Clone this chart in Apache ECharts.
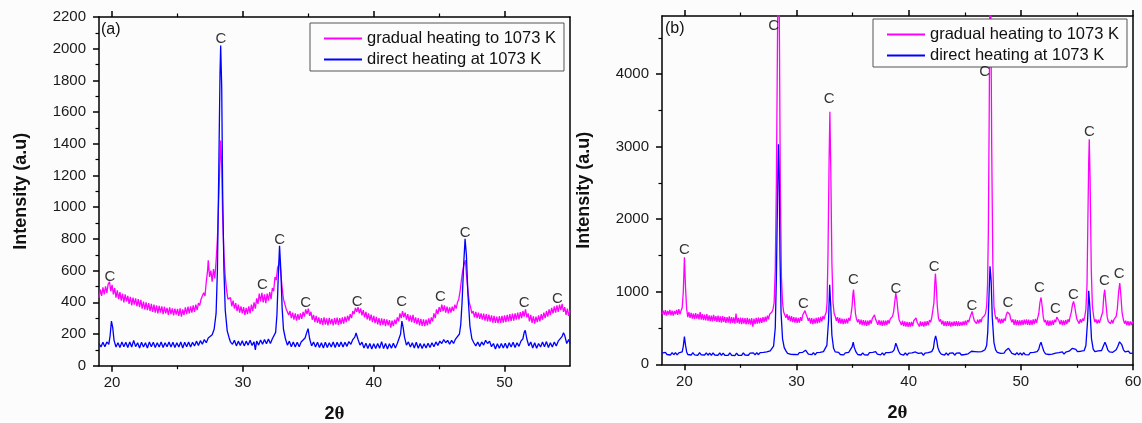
<!DOCTYPE html>
<html><head><meta charset="utf-8">
<script src="https://cdn.jsdelivr.net/npm/echarts@6/dist/echarts.min.js"></script>
<style>html,body{margin:0;padding:0;background:#fcfcfc}#c{width:1142px;height:423px}</style>
</head><body><div id="c"></div><script>
const seriesNames = ['gradual heating to 1073 K', 'direct heating at 1073 K'];
const panelLabels = ['(a)', '(b)'];
const xMajorA = [20, 30, 40, 50], xMinorA = [25, 35, 45];
const xMajorB = [20, 30, 40, 50, 60], xMinorB = [25, 35, 45, 55];
const yMajorB = [0, 1000, 2000, 3000, 4000], yMinorB = [500, 1500, 2500, 3500, 4500];

// panel (a) gradual heating
const gradualA = [[19.0,430],[19.1,480],[19.2,440],[19.3,495],[19.4,450],[19.5,500],[19.6,460],[19.7,515],[19.8,530],[19.9,470],[20.0,510],[20.1,450],[20.2,490],[20.3,430],[20.4,475],[20.5,420],[20.6,465],[20.7,410],[20.8,455],[20.9,400],[21.0,450],[21.1,405],[21.2,440],[21.3,390],[21.4,435],[21.5,380],[21.6,430],[21.7,385],[21.8,425],[21.9,375],[22.0,420],[22.1,370],[22.2,415],[22.3,360],[22.4,405],[22.5,355],[22.6,400],[22.7,350],[22.8,395],[22.9,345],[23.0,390],[23.1,340],[23.2,385],[23.3,335],[23.4,380],[23.5,330],[23.6,378],[23.7,335],[23.8,375],[23.9,325],[24.0,372],[24.1,330],[24.2,365],[24.3,320],[24.4,368],[24.5,325],[24.6,362],[24.7,318],[24.8,360],[24.9,322],[25.0,358],[25.1,315],[25.2,362],[25.3,310],[25.4,355],[25.5,320],[25.6,368],[25.7,325],[25.8,372],[25.9,330],[26.0,375],[26.1,335],[26.2,380],[26.3,340],[26.4,385],[26.5,350],[26.6,395],[26.7,380],[26.8,420],[26.9,410],[27.0,460],[27.1,440],[27.2,530],[27.3,600],[27.35,665],[27.45,560],[27.55,600],[27.65,530],[27.75,610],[27.85,550],[27.95,660],[28.05,800],[28.15,1050],[28.25,1300],[28.3,1420],[28.38,1250],[28.45,950],[28.55,700],[28.65,560],[28.75,480],[28.85,420],[28.95,410],[29.05,430],[29.15,375],[29.25,410],[29.35,360],[29.45,395],[29.55,345],[29.65,385],[29.75,335],[29.85,375],[29.95,330],[30.05,370],[30.15,320],[30.25,365],[30.35,325],[30.45,375],[30.55,330],[30.65,385],[30.75,345],[30.85,400],[30.95,360],[31.05,425],[31.15,390],[31.25,455],[31.35,405],[31.45,460],[31.55,400],[31.65,450],[31.75,395],[31.85,455],[31.95,410],[32.05,465],[32.15,420],[32.25,490],[32.35,470],[32.45,560],[32.55,540],[32.65,620],[32.75,640],[32.8,665],[32.9,580],[33.0,490],[33.1,420],[33.2,410],[33.3,360],[33.4,370],[33.5,320],[33.6,345],[33.7,300],[33.8,335],[33.9,290],[34.0,330],[34.1,285],[34.2,325],[34.3,290],[34.4,330],[34.5,295],[34.6,340],[34.7,310],[34.8,355],[34.9,325],[35.0,360],[35.1,315],[35.2,340],[35.3,290],[35.4,320],[35.5,275],[35.6,315],[35.7,270],[35.8,305],[35.9,262],[36.0,300],[36.1,258],[36.2,305],[36.3,260],[36.4,298],[36.5,255],[36.6,302],[36.7,262],[36.8,295],[36.9,255],[37.0,300],[37.1,260],[37.2,303],[37.3,258],[37.4,300],[37.5,262],[37.6,305],[37.7,265],[37.8,310],[37.9,275],[38.0,315],[38.1,285],[38.2,325],[38.3,300],[38.4,345],[38.5,325],[38.6,365],[38.7,340],[38.8,370],[38.9,330],[39.0,362],[39.1,318],[39.2,350],[39.3,305],[39.4,340],[39.5,292],[39.6,330],[39.7,285],[39.8,322],[39.9,275],[40.0,315],[40.1,268],[40.2,308],[40.3,260],[40.4,300],[40.5,255],[40.6,298],[40.7,258],[40.8,295],[40.9,250],[41.0,292],[41.1,255],[41.2,288],[41.3,240],[41.4,285],[41.5,250],[41.6,290],[41.7,262],[41.8,305],[41.9,280],[42.0,330],[42.1,300],[42.2,345],[42.3,305],[42.4,335],[42.5,290],[42.6,325],[42.7,280],[42.8,318],[42.9,275],[43.0,320],[43.1,270],[43.2,305],[43.3,262],[43.4,300],[43.5,255],[43.6,295],[43.7,252],[43.8,292],[43.9,250],[44.0,290],[44.1,255],[44.2,298],[44.3,262],[44.4,305],[44.5,280],[44.6,330],[44.7,300],[44.8,355],[44.9,325],[45.0,370],[45.1,340],[45.2,385],[45.3,345],[45.4,380],[45.5,335],[45.6,372],[45.7,330],[45.8,368],[45.9,335],[46.0,372],[46.1,345],[46.2,385],[46.3,360],[46.4,400],[46.5,420],[46.6,470],[46.7,540],[46.8,600],[46.9,640],[47.0,665],[47.1,560],[47.2,470],[47.3,400],[47.4,370],[47.5,330],[47.6,345],[47.7,305],[47.8,340],[47.9,300],[48.0,335],[48.1,295],[48.2,330],[48.3,290],[48.4,328],[48.5,285],[48.6,325],[48.7,280],[48.8,322],[48.9,278],[49.0,318],[49.1,272],[49.2,315],[49.3,270],[49.4,310],[49.5,268],[49.6,312],[49.7,270],[49.8,315],[49.9,272],[50.0,318],[50.1,275],[50.2,320],[50.3,280],[50.4,325],[50.5,282],[50.6,328],[50.7,285],[50.8,330],[50.9,290],[51.0,335],[51.1,292],[51.2,338],[51.3,300],[51.4,345],[51.5,310],[51.6,355],[51.7,305],[51.8,330],[51.9,280],[52.0,320],[52.1,270],[52.2,312],[52.3,265],[52.4,310],[52.5,275],[52.6,318],[52.7,280],[52.8,325],[52.9,290],[53.0,335],[53.1,300],[53.2,345],[53.3,310],[53.4,355],[53.5,320],[53.6,365],[53.7,330],[53.8,375],[53.9,335],[54.0,380],[54.1,340],[54.2,385],[54.3,350],[54.4,390],[54.5,340],[54.6,370],[54.7,320],[54.8,360],[54.9,315],[55.0,350]];

// panel (a) direct heating
const directA = [[19.0,140],[19.15,118],[19.3,148],[19.45,120],[19.6,150],[19.75,135],[19.85,190],[19.95,282],[20.05,240],[20.15,160],[20.3,118],[20.45,145],[20.6,115],[20.75,150],[20.9,120],[21.05,148],[21.2,115],[21.35,150],[21.5,118],[21.65,160],[21.8,120],[21.95,145],[22.1,112],[22.25,148],[22.4,118],[22.55,145],[22.7,112],[22.85,150],[23.0,120],[23.15,148],[23.3,115],[23.45,145],[23.6,118],[23.75,150],[23.9,115],[24.05,145],[24.2,120],[24.35,150],[24.5,118],[24.65,148],[24.8,115],[24.95,145],[25.1,118],[25.25,150],[25.4,112],[25.55,148],[25.7,120],[25.85,150],[26.0,118],[26.15,148],[26.3,125],[26.45,155],[26.6,128],[26.75,158],[26.9,135],[27.05,165],[27.2,145],[27.35,175],[27.5,165],[27.65,195],[27.8,230],[27.95,330],[28.05,600],[28.15,1200],[28.25,1850],[28.3,2020],[28.38,1750],[28.45,1100],[28.55,600],[28.65,350],[28.8,220],[28.95,175],[29.05,150],[29.2,135],[29.35,160],[29.5,125],[29.65,155],[29.8,128],[29.95,158],[30.1,125],[30.25,155],[30.4,130],[30.55,160],[30.7,128],[30.85,150],[30.95,100],[31.05,155],[31.2,130],[31.35,162],[31.5,135],[31.65,165],[31.8,138],[31.95,168],[32.1,140],[32.25,170],[32.4,175],[32.5,210],[32.6,320],[32.7,560],[32.8,756],[32.9,600],[33.0,360],[33.1,230],[33.25,170],[33.4,130],[33.55,155],[33.7,120],[33.85,150],[34.0,118],[34.15,148],[34.3,120],[34.45,150],[34.6,140],[34.75,175],[34.9,215],[34.98,234],[35.1,170],[35.25,125],[35.4,150],[35.55,118],[35.7,148],[35.85,115],[36.0,145],[36.15,112],[36.3,148],[36.45,115],[36.6,145],[36.75,118],[36.9,150],[37.05,115],[37.2,148],[37.35,120],[37.5,150],[37.65,118],[37.8,148],[37.95,122],[38.1,152],[38.25,135],[38.4,165],[38.55,180],[38.65,206],[38.8,165],[38.95,130],[39.1,148],[39.25,112],[39.4,142],[39.55,108],[39.7,140],[39.85,105],[40.0,138],[40.15,108],[40.3,140],[40.45,110],[40.6,152],[40.75,108],[40.9,140],[41.05,105],[41.2,138],[41.35,110],[41.5,142],[41.65,112],[41.8,140],[41.95,150],[42.05,200],[42.15,282],[42.25,240],[42.35,180],[42.5,130],[42.65,150],[42.8,118],[42.95,145],[43.1,112],[43.25,148],[43.4,110],[43.55,140],[43.7,108],[43.85,138],[44.0,112],[44.15,142],[44.3,115],[44.45,145],[44.6,120],[44.75,150],[44.9,128],[45.05,155],[45.2,140],[45.35,165],[45.5,145],[45.65,160],[45.8,135],[45.95,160],[46.1,140],[46.25,168],[46.4,165],[46.55,200],[46.65,260],[46.75,400],[46.88,650],[46.98,800],[47.08,700],[47.2,450],[47.35,250],[47.5,170],[47.65,145],[47.8,125],[47.95,150],[48.1,122],[48.25,150],[48.4,130],[48.55,160],[48.7,140],[48.85,155],[49.0,120],[49.15,140],[49.3,105],[49.45,138],[49.6,110],[49.75,140],[49.9,112],[50.05,142],[50.2,110],[50.35,145],[50.5,118],[50.65,148],[50.8,115],[50.95,145],[51.1,122],[51.25,155],[51.4,170],[51.5,210],[51.58,223],[51.7,170],[51.85,125],[52.0,150],[52.15,112],[52.3,145],[52.45,110],[52.6,140],[52.75,118],[52.9,150],[53.05,120],[53.2,152],[53.35,115],[53.5,145],[53.65,118],[53.8,150],[53.95,125],[54.1,155],[54.25,150],[54.4,185],[54.5,208],[54.6,190],[54.75,140],[54.9,165],[55.0,140]];

// panel (b) gradual heating
const gradualB = [[18.0,690],[18.1,740],[18.2,680],[18.3,745],[18.4,670],[18.5,735],[18.6,685],[18.7,750],[18.8,675],[18.9,740],[19.0,670],[19.1,735],[19.2,690],[19.3,750],[19.4,680],[19.5,760],[19.6,690],[19.7,740],[19.8,780],[19.9,1000],[20.0,1475],[20.1,1050],[20.2,760],[20.3,650],[20.4,720],[20.5,640],[20.6,710],[20.7,630],[20.8,700],[20.9,625],[21.0,705],[21.1,630],[21.2,695],[21.3,620],[21.4,720],[21.5,615],[21.6,690],[21.7,610],[21.8,685],[21.9,605],[22.0,690],[22.1,600],[22.2,675],[22.3,595],[22.4,670],[22.5,590],[22.6,680],[22.7,600],[22.8,665],[22.9,585],[23.0,670],[23.1,580],[23.2,660],[23.3,575],[23.4,665],[23.5,585],[23.6,655],[23.7,570],[23.8,650],[23.9,575],[24.0,660],[24.1,565],[24.2,650],[24.3,570],[24.4,645],[24.5,560],[24.6,700],[24.7,570],[24.8,640],[24.9,560],[25.0,645],[25.1,555],[25.2,640],[25.3,560],[25.4,635],[25.5,550],[25.6,640],[25.7,555],[25.8,630],[25.9,545],[26.0,635],[26.1,520],[26.2,630],[26.3,555],[26.4,640],[26.5,560],[26.6,645],[26.7,565],[26.8,640],[26.9,570],[27.0,650],[27.1,580],[27.2,655],[27.3,590],[27.4,670],[27.5,620],[27.6,690],[27.7,680],[27.8,720],[27.9,760],[28.0,850],[28.1,1300],[28.2,2500],[28.3,4500],[28.38,6000],[28.46,4800],[28.55,2500],[28.65,1200],[28.75,850],[28.85,720],[28.95,700],[29.05,640],[29.15,690],[29.25,610],[29.35,670],[29.45,590],[29.55,665],[29.65,580],[29.75,650],[29.85,575],[29.95,645],[30.05,570],[30.15,640],[30.25,575],[30.35,650],[30.45,600],[30.55,680],[30.65,700],[30.75,740],[30.85,690],[30.95,650],[31.05,600],[31.15,640],[31.25,560],[31.35,635],[31.45,555],[31.55,630],[31.65,560],[31.75,640],[31.85,565],[31.95,645],[32.05,575],[32.15,655],[32.25,590],[32.35,665],[32.45,620],[32.55,680],[32.65,720],[32.72,850],[32.8,1500],[32.9,2800],[32.97,3479],[33.05,2700],[33.15,1400],[33.25,850],[33.35,700],[33.45,660],[33.55,600],[33.65,650],[33.75,570],[33.85,640],[33.95,560],[34.05,630],[34.15,555],[34.25,625],[34.35,560],[34.45,630],[34.55,565],[34.65,640],[34.75,600],[34.85,680],[34.95,800],[35.02,960],[35.08,1028],[35.15,900],[35.25,700],[35.35,620],[35.45,580],[35.55,620],[35.65,550],[35.75,615],[35.85,540],[35.95,610],[36.05,535],[36.15,605],[36.25,530],[36.35,600],[36.45,540],[36.55,610],[36.65,560],[36.75,630],[36.85,610],[36.95,680],[37.05,620],[37.15,600],[37.25,545],[37.35,610],[37.45,540],[37.55,600],[37.65,530],[37.75,605],[37.85,535],[37.95,600],[38.05,545],[38.15,610],[38.25,560],[38.35,625],[38.45,600],[38.55,660],[38.65,720],[38.75,850],[38.85,981],[38.95,880],[39.05,720],[39.15,610],[39.25,580],[39.35,540],[39.45,600],[39.55,525],[39.65,590],[39.75,520],[39.85,585],[39.95,515],[40.05,580],[40.15,520],[40.25,585],[40.35,525],[40.45,600],[40.55,580],[40.65,640],[40.75,580],[40.85,560],[40.95,520],[41.05,590],[41.15,525],[41.25,585],[41.35,520],[41.45,590],[41.55,530],[41.65,595],[41.75,540],[41.85,610],[41.95,580],[42.05,640],[42.15,660],[42.25,850],[42.32,1100],[42.38,1249],[42.45,1100],[42.55,800],[42.65,640],[42.75,590],[42.85,620],[42.95,550],[43.05,600],[43.15,530],[43.25,590],[43.35,525],[43.45,595],[43.55,530],[43.65,590],[43.75,520],[43.85,585],[43.95,525],[44.05,590],[44.15,530],[44.25,595],[44.35,525],[44.45,590],[44.55,530],[44.65,585],[44.75,535],[44.85,590],[44.95,540],[45.05,600],[45.15,545],[45.25,610],[45.35,580],[45.45,640],[45.55,650],[45.65,728],[45.75,660],[45.85,600],[45.95,620],[46.05,560],[46.15,615],[46.25,565],[46.35,620],[46.45,580],[46.55,640],[46.65,620],[46.75,670],[46.85,700],[46.95,800],[47.03,1100],[47.1,1800],[47.18,3500],[47.25,5500],[47.32,5000],[47.4,3000],[47.5,1400],[47.6,800],[47.7,680],[47.8,620],[47.9,650],[48.0,575],[48.1,630],[48.2,560],[48.3,625],[48.4,570],[48.5,630],[48.6,600],[48.7,680],[48.8,720],[48.9,742],[49.0,690],[49.1,620],[49.2,580],[49.3,620],[49.4,545],[49.5,615],[49.6,540],[49.7,610],[49.8,535],[49.9,605],[50.0,540],[50.1,610],[50.2,545],[50.3,615],[50.4,550],[50.5,620],[50.6,545],[50.7,615],[50.8,540],[50.9,610],[51.0,545],[51.1,620],[51.2,555],[51.3,625],[51.4,570],[51.5,640],[51.6,700],[51.7,850],[51.8,921],[51.9,800],[52.0,650],[52.1,580],[52.2,610],[52.3,540],[52.4,605],[52.5,530],[52.6,600],[52.7,535],[52.8,605],[52.9,545],[53.0,615],[53.1,580],[53.2,650],[53.28,668],[53.4,600],[53.5,550],[53.6,610],[53.7,540],[53.8,605],[53.9,545],[54.0,610],[54.1,555],[54.2,620],[54.3,580],[54.4,660],[54.5,720],[54.6,820],[54.7,866],[54.8,800],[54.9,700],[55.0,620],[55.1,600],[55.2,560],[55.3,620],[55.4,575],[55.5,630],[55.6,600],[55.7,660],[55.8,760],[55.9,1100],[55.97,1900],[56.05,2800],[56.1,3101],[56.18,2500],[56.28,1300],[56.38,800],[56.5,650],[56.6,580],[56.7,620],[56.8,560],[56.9,615],[57.0,570],[57.1,620],[57.2,610],[57.3,720],[57.4,950],[57.48,1028],[57.58,850],[57.7,650],[57.8,590],[57.9,615],[58.0,560],[58.1,610],[58.2,565],[58.3,615],[58.4,600],[58.5,660],[58.6,760],[58.72,1000],[58.82,1120],[58.92,950],[59.02,720],[59.15,610],[59.25,560],[59.35,600],[59.45,540],[59.55,595],[59.65,535],[59.75,590],[59.85,540],[59.95,595],[60.0,560]];

// panel (b) direct heating
const directB = [[18.0,155],[18.15,130],[18.3,165],[18.45,135],[18.6,160],[18.75,128],[18.9,162],[19.05,132],[19.2,160],[19.35,130],[19.5,158],[19.65,135],[19.8,170],[19.9,250],[20.0,382],[20.1,260],[20.2,170],[20.3,135],[20.45,158],[20.6,128],[20.75,160],[20.9,130],[21.05,155],[21.2,125],[21.35,160],[21.5,130],[21.65,155],[21.8,128],[21.95,158],[22.1,125],[22.25,155],[22.4,122],[22.55,158],[22.7,128],[22.85,152],[23.0,125],[23.15,158],[23.3,122],[23.45,155],[23.6,125],[23.75,150],[23.9,122],[24.05,158],[24.2,125],[24.35,150],[24.5,120],[24.65,155],[24.8,125],[24.95,150],[25.1,122],[25.25,158],[25.4,128],[25.55,152],[25.7,125],[25.85,155],[26.0,128],[26.15,158],[26.3,130],[26.45,160],[26.6,132],[26.75,162],[26.9,138],[27.05,165],[27.2,145],[27.35,170],[27.5,160],[27.65,185],[27.8,200],[27.95,250],[28.1,500],[28.2,1200],[28.3,2300],[28.38,3032],[28.45,2600],[28.52,1500],[28.62,700],[28.75,350],[28.9,230],[29.05,185],[29.2,150],[29.35,170],[29.5,138],[29.65,165],[29.8,135],[29.95,162],[30.1,132],[30.25,160],[30.4,135],[30.55,165],[30.7,150],[30.8,195],[30.9,170],[31.05,140],[31.2,165],[31.35,132],[31.5,160],[31.65,130],[31.8,162],[31.95,138],[32.1,165],[32.25,145],[32.4,175],[32.55,190],[32.7,260],[32.85,600],[32.95,1097],[33.05,800],[33.15,400],[33.3,220],[33.45,170],[33.6,145],[33.75,165],[33.9,135],[34.05,160],[34.2,130],[34.35,158],[34.5,135],[34.65,165],[34.8,175],[34.95,240],[35.05,304],[35.15,230],[35.3,170],[35.45,135],[35.6,160],[35.75,128],[35.9,158],[36.05,130],[36.2,155],[36.35,128],[36.5,160],[36.65,135],[36.8,165],[36.95,185],[37.05,175],[37.2,140],[37.35,160],[37.5,130],[37.65,158],[37.8,128],[37.95,160],[38.1,135],[38.25,162],[38.4,145],[38.55,170],[38.7,200],[38.85,290],[38.95,250],[39.1,180],[39.25,140],[39.4,160],[39.55,128],[39.7,158],[39.85,125],[40.0,155],[40.15,128],[40.3,158],[40.45,140],[40.6,170],[40.7,180],[40.85,150],[41.0,130],[41.15,158],[41.3,125],[41.45,155],[41.6,130],[41.75,160],[41.9,145],[42.05,175],[42.2,220],[42.3,330],[42.4,392],[42.5,330],[42.6,230],[42.75,170],[42.9,140],[43.05,160],[43.2,128],[43.35,158],[43.5,125],[43.65,155],[43.8,128],[43.95,158],[44.1,125],[44.25,155],[44.4,130],[44.55,158],[44.7,128],[44.85,155],[45.0,135],[45.15,160],[45.3,145],[45.45,170],[45.6,180],[45.75,200],[45.9,175],[46.05,150],[46.2,170],[46.35,150],[46.5,175],[46.65,170],[46.8,200],[46.95,260],[47.05,450],[47.15,900],[47.25,1350],[47.35,1150],[47.45,650],[47.6,300],[47.75,200],[47.9,165],[48.05,180],[48.2,150],[48.35,170],[48.5,155],[48.65,190],[48.8,215],[48.9,220],[49.05,185],[49.2,150],[49.35,165],[49.5,132],[49.65,160],[49.8,130],[49.95,158],[50.1,128],[50.25,160],[50.4,132],[50.55,158],[50.7,130],[50.85,162],[51.0,138],[51.15,165],[51.3,150],[51.45,175],[51.6,210],[51.7,270],[51.8,304],[51.9,250],[52.05,180],[52.2,145],[52.35,165],[52.5,135],[52.65,160],[52.8,140],[52.95,165],[53.1,155],[53.25,180],[53.4,160],[53.55,145],[53.7,170],[53.85,140],[54.0,168],[54.15,150],[54.3,180],[54.45,195],[54.6,220],[54.75,230],[54.9,205],[55.05,175],[55.2,160],[55.35,180],[55.5,165],[55.65,190],[55.8,260],[55.95,600],[56.05,1014],[56.15,800],[56.3,350],[56.45,210],[56.6,175],[56.75,160],[56.9,185],[57.05,165],[57.2,190],[57.35,250],[57.5,304],[57.6,270],[57.75,200],[57.9,170],[58.05,190],[58.2,165],[58.35,185],[58.5,200],[58.65,250],[58.8,310],[58.88,322],[59.0,270],[59.15,200],[59.3,170],[59.45,160],[59.6,180],[59.75,150],[59.9,170],[60.0,155]];

// "C" peak markers [2theta, intensity]
const peaksA = [[19.83,560],[28.31,2060],[31.49,511],[32.8,796],[34.8,396],[38.73,402],[42.14,402],[45.1,434],[46.99,838],[51.49,396],[54.03,423]];
const peaksB = [[20.0,1580],[27.96,4668],[30.6,834],[32.9,3654],[35.06,1166],[38.85,1037],[42.26,1336],[45.64,806],[46.78,4032],[48.85,852],[51.66,1051],[53.09,760],[54.68,958],[56.11,3203],[57.45,1152],[58.76,1244]];

const FONT = 'Liberation Sans';
const BLACK = '#000';
const lineW = 1.5;
const plainNum = function (v) { return String(v); };

function xAxesFor(gi, min, max, major, minor) {
  const base = { type: 'value', gridIndex: gi, min: min, max: max, splitLine: { show: false } };
  return [
    Object.assign({}, base, {
      position: 'bottom',
      axisLine: { show: true, onZero: false, lineStyle: { color: BLACK, width: lineW } },
      axisTick: { show: true, length: 6, customValues: major, lineStyle: { color: BLACK, width: lineW } },
      axisLabel: { customValues: major, formatter: plainNum, fontFamily: FONT, fontSize: 15, color: '#1a1a1a', margin: 10 },
      name: '{a|2}{b|θ}', nameLocation: 'middle', nameGap: 39,
      nameTextStyle: { rich: { a: { fontFamily: FONT, fontWeight: 'bold', fontSize: 18, color: '#111' }, b: { fontFamily: 'Liberation Serif', fontWeight: 'bold', fontSize: 19, color: '#111' } } }
    }),
    Object.assign({}, base, {
      position: 'bottom',
      axisLine: { show: false, onZero: false },
      axisTick: { show: true, length: 3.5, customValues: minor, lineStyle: { color: BLACK, width: 1.2 } },
      axisLabel: { show: false }
    }),
    Object.assign({}, base, {
      position: 'top',
      axisLine: { show: true, onZero: false, lineStyle: { color: BLACK, width: lineW } },
      axisTick: { show: true, length: 6, customValues: major, lineStyle: { color: BLACK, width: lineW } },
      axisLabel: { show: false }
    }),
    Object.assign({}, base, {
      position: 'top',
      axisLine: { show: false, onZero: false },
      axisTick: { show: true, length: 3.5, customValues: minor, lineStyle: { color: BLACK, width: 1.2 } },
      axisLabel: { show: false }
    })
  ];
}

const yName = {
  name: 'Intensity (a.u)', nameLocation: 'middle', nameGap: 69, nameRotate: 90,
  nameTextStyle: { fontFamily: FONT, fontWeight: 'bold', fontSize: 18, color: '#111' }
};

const yAxes = [
  Object.assign({
    type: 'value', gridIndex: 0, position: 'left', min: 0, max: 2200, interval: 200,
    splitLine: { show: false },
    axisLine: { show: true, onZero: false, lineStyle: { color: BLACK, width: lineW } },
    axisTick: { show: true, length: 6, lineStyle: { color: BLACK, width: lineW } },
    minorTick: { show: true, splitNumber: 2, length: 3.5, lineStyle: { color: BLACK, width: 1.2 } },
    axisLabel: { formatter: plainNum, fontFamily: FONT, fontSize: 15, color: '#1a1a1a', margin: 13 }
  }, yName),
  { type: 'value', gridIndex: 0, position: 'right', min: 0, max: 2200, splitLine: { show: false },
    axisLine: { show: true, onZero: false, lineStyle: { color: BLACK, width: lineW } }, axisTick: { show: false }, axisLabel: { show: false } },
  Object.assign({
    type: 'value', gridIndex: 1, position: 'left', min: 0, max: 4800,
    splitLine: { show: false },
    axisLine: { show: true, onZero: false, lineStyle: { color: BLACK, width: lineW } },
    axisTick: { show: true, length: 6, customValues: yMajorB, lineStyle: { color: BLACK, width: lineW } },
    axisLabel: { customValues: yMajorB, formatter: plainNum, fontFamily: FONT, fontSize: 15, color: '#1a1a1a', margin: 13 }
  }, yName),
  { type: 'value', gridIndex: 1, position: 'left', min: 0, max: 4800, splitLine: { show: false },
    axisLine: { show: false, onZero: false }, axisLabel: { show: false },
    axisTick: { show: true, length: 3.5, customValues: yMinorB, lineStyle: { color: BLACK, width: 1.2 } } },
  { type: 'value', gridIndex: 1, position: 'right', min: 0, max: 4800, splitLine: { show: false },
    axisLine: { show: true, onZero: false, lineStyle: { color: BLACK, width: lineW } }, axisTick: { show: false }, axisLabel: { show: false } }
];

const COLORS = ['#ff00ff', '#0000ff'];
function lineSeries(name, data, xi, yi, color) {
  return { type: 'line', name: name, data: data, xAxisIndex: xi, yAxisIndex: yi, showSymbol: false, symbol: 'none',
    color: color, lineStyle: { color: color, width: 1.3 }, animation: false, silent: true };
}
function peakSeries(data, xi, yi) {
  return { type: 'scatter', name: 'peaks', data: data, xAxisIndex: xi, yAxisIndex: yi, symbolSize: 1,
    itemStyle: { color: 'rgba(0,0,0,0)' }, silent: true, z: 5, animation: false,
    label: { show: true, position: 'inside', formatter: 'C', fontFamily: FONT, fontSize: 15, color: '#000' } };
}
function legendAt(left, top) {
  return { data: seriesNames, left: left, top: top, orient: 'vertical', icon: 'rect', itemWidth: 38, itemHeight: 2,
    itemGap: 4, itemTextGap: 5, selectedMode: false, padding: [7, 8, 3, 14],
    borderColor: '#555', borderWidth: 1, backgroundColor: '#fcfcfc',
    textStyle: { fontFamily: FONT, fontSize: 16.5, color: '#111' } };
}

const chart = echarts.init(document.getElementById('c'));
chart.setOption({
  backgroundColor: '#fcfcfc',
  animation: false,
  title: [
    { text: panelLabels[0], left: 101, top: 22, padding: 0, textStyle: { fontFamily: FONT, fontSize: 16, fontWeight: 'normal', color: '#111' } },
    { text: panelLabels[1], left: 665, top: 21, padding: 0, textStyle: { fontFamily: FONT, fontSize: 16, fontWeight: 'normal', color: '#111' } }
  ],
  legend: [legendAt(310, 23), legendAt(873, 19)],
  grid: [
    { left: 99, top: 17, width: 471, height: 348.7, containLabel: false, outerBoundsMode: 'none' },
    { left: 662, top: 16, width: 471, height: 348.3, containLabel: false, outerBoundsMode: 'none' }
  ],
  xAxis: xAxesFor(0, 19, 55, xMajorA, xMinorA).concat(xAxesFor(1, 18, 60, xMajorB, xMinorB)),
  yAxis: yAxes,
  series: [
    lineSeries(seriesNames[0], gradualA, 0, 0, COLORS[0]),
    lineSeries(seriesNames[1], directA, 0, 0, COLORS[1]),
    peakSeries(peaksA, 0, 0),
    lineSeries(seriesNames[0], gradualB, 4, 2, COLORS[0]),
    lineSeries(seriesNames[1], directB, 4, 2, COLORS[1]),
    peakSeries(peaksB, 4, 2)
  ]
});
</script></body></html>
